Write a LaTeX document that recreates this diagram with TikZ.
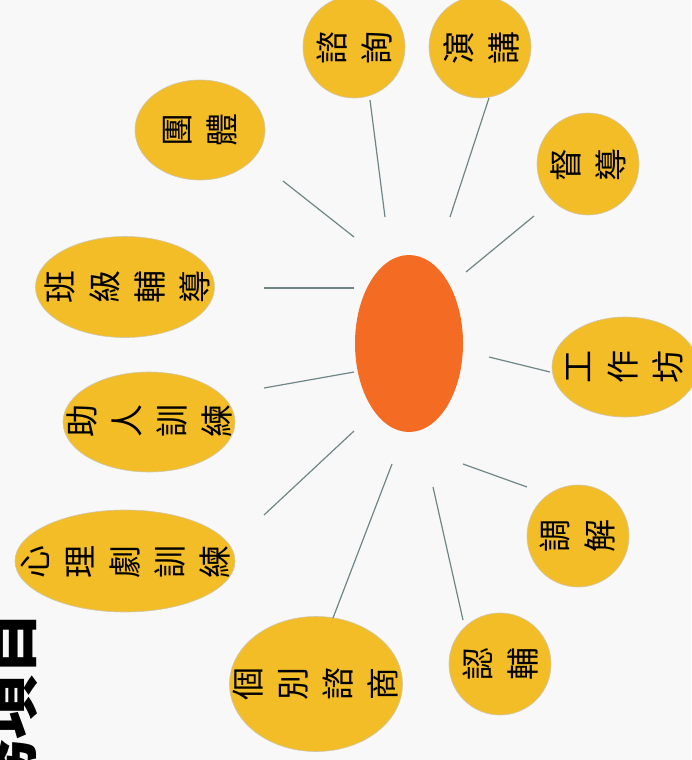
\documentclass[tikz,border=0pt]{standalone}
\usepackage{fontspec}
\newfontfamily\cjk{Noto Sans CJK TC}
\usetikzlibrary{shapes.geometric}
\definecolor{bg}{HTML}{F8F8F8}
\definecolor{yel}{HTML}{F2BD27}
\definecolor{org}{HTML}{F46B24}
\definecolor{ln}{HTML}{6F8686}
\definecolor{rim}{HTML}{CFC6AE}
\begin{document}
\begin{tikzpicture}[x=1pt,y=1pt,
  bub/.style={ellipse, fill=yel, draw=rim, line width=0.6pt, inner sep=0pt},
  lab/.style={rotate=90, align=center, font=\cjk\fontsize{33}{45}\selectfont, inner sep=0pt},
  conn/.style={draw=ln, line width=1.2pt}]
\useasboundingbox (0,0) rectangle (691,-760);
\fill[bg] (0,0) rectangle (691,-760);

% title (cut by the page edge)
\node[rotate=90, anchor=base east, font=\cjk\bfseries\fontsize{64}{70}\selectfont, inner sep=0pt] (title) at (31,-611.5) {服務項目};

% centre
\node[ellipse, fill=org, draw=none, minimum width=108pt, minimum height=177pt, inner sep=0pt] (c) at (409,-343.5) {};

% bubbles
\node[bub, minimum width=102pt, minimum height=102pt] (n1) at (354,-47) {};
\node[lab] (t1) at (354,-48) {諮\\詢};
\node[bub, minimum width=102pt, minimum height=102pt] (n2) at (480,-47) {};
\node[lab] (t2) at (481,-48) {演\\講};
\node[bub, minimum width=102pt, minimum height=102pt] (n3) at (588,-164) {};
\node[lab] (t3) at (588,-165) {督\\導};
\node[bub, minimum width=146pt, minimum height=100pt] (n4) at (625,-367) {};
\node[lab] (t4) at (625,-367) {工\\作\\坊};
\node[bub, minimum width=102pt, minimum height=102pt] (n5) at (578,-536) {};
\node[lab] (t5) at (578,-536) {調\\解};
\node[bub, minimum width=102pt, minimum height=102pt] (n6) at (500,-664) {};
\node[lab] (t6) at (501,-664) {認\\輔};
\node[bub, minimum width=173pt, minimum height=135pt] (n7) at (316,-684) {};
\node[lab] (t7) at (316,-684) {個\\別\\諮\\商};
\node[bub, minimum width=220pt, minimum height=102pt] (n8) at (125,-561) {};
\node[lab] (t8) at (126,-562) {心\\理\\劇\\訓\\練};
\node[bub, minimum width=172pt, minimum height=100pt] (n9) at (149,-422) {};
\node[lab] (t9) at (149,-421) {助\\人\\訓\\練};
\node[bub, minimum width=179pt, minimum height=101pt] (n10) at (125,-287) {};
\node[lab] (t10) at (127,-287) {班\\級\\輔\\導};
\node[bub, minimum width=130pt, minimum height=100pt] (n11) at (200,-130) {};
\node[lab] (t11) at (200,-130) {團\\體};

% connector ends
\coordinate (a1) at (370,-100);  \coordinate (b1) at (385,-217);
\coordinate (a2) at (489,-98);   \coordinate (b2) at (450,-217);
\coordinate (a3) at (534,-216);  \coordinate (b3) at (466,-272);
\coordinate (a4) at (550,-372);  \coordinate (b4) at (489,-357);
\coordinate (a5) at (527,-487);  \coordinate (b5) at (463,-464);
\coordinate (a6) at (463,-620);  \coordinate (b6) at (433,-487);
\coordinate (a7) at (333,-618);  \coordinate (b7) at (392,-464);
\coordinate (a8) at (264,-515);  \coordinate (b8) at (354,-431);
\coordinate (a9) at (264,-388);  \coordinate (b9) at (354,-372);
\coordinate (a10) at (264,-288); \coordinate (b10) at (354,-288);
\coordinate (a11) at (283,-181); \coordinate (b11) at (354,-237);

\foreach \i in {1,...,11} {\draw[conn] (a\i) -- (b\i);}
\end{tikzpicture}
\end{document}
